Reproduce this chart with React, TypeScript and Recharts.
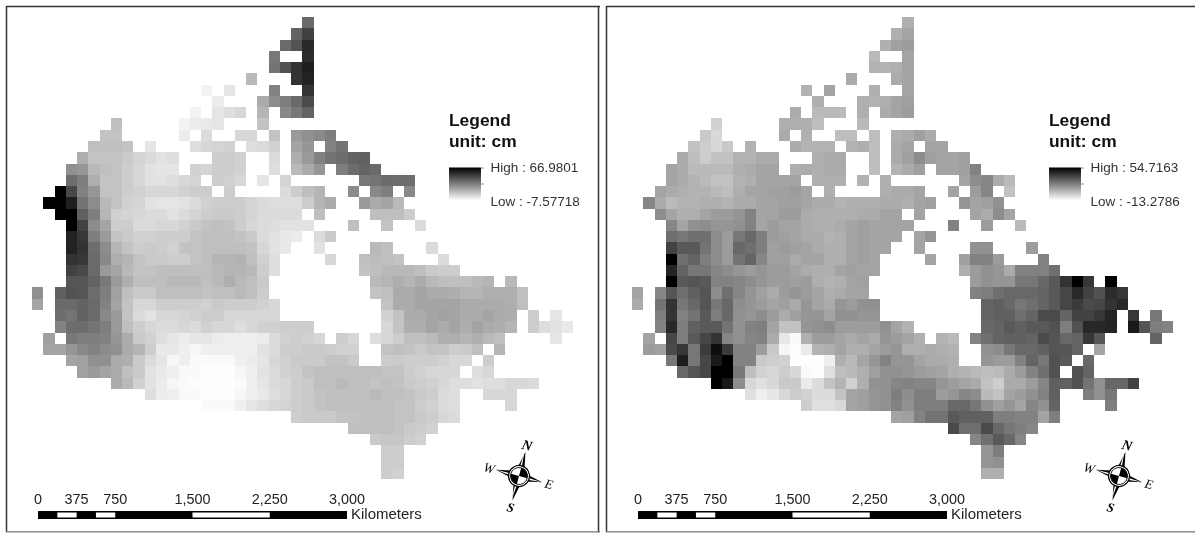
import React from "react";
import { ScatterChart, Scatter, XAxis, YAxis } from "recharts";

// Gridded change maps, two panels. Unit: cm. null = no data in that cell.
const _ = null;
const COLS = 48;
const ROWS = 41;

// first occupied column of every row (both panels share the same land mask)
const rowFirstColumn = [24, 23, 22, 21, 21, 19, 15, 16, 14, 7, 6, 5, 4, 3, 3, 2, 1, 2, 3, 3, 3, 3, 3, 3, 0, 0, 2, 2, 1, 1, 3, 4, 7, 10, 15, 23, 28, 30, 31, 31, 31];

const leftHigh = 66.9801;
const leftLow = -7.57718;
const rightHigh = 54.7163;
const rightLow = -13.2786;

const leftValues = [
  [36],
  [38, 48],
  [36, 43, 55],
  [32, _, _, 54],
  [33, 43, 52, 58],
  [13, _, _, _, 52, 57],
  [-4, _, 0, _, _, _, 29, _, _, 52],
  [-2, _, _, _, 17, 26, 30, 36, 45],
  [-4, _, 0, 2, 4, _, 14, _, 27, 32, 38],
  [11, _, _, _, _, _, -4, -2, -1, 0, _, _, _, 10],
  [10, 10, _, _, _, _, _, -2, _, 3, _, _, 4, 4, _, 10, _, 22, 25, 27, 30],
  [11, 11, 11, 10, _, 0, _, _, _, 2, 4, 5, 6, _, 2, 3, 6, _, 19, 23, _, 29, 33],
  [16, 10, 10, 10, 8, 5, 3, 1, 2, _, _, _, 7, 7, 6, _, _, 3, _, 16, 22, 29, 33, 35, 38, 39],
  [25, 23, 13, 11, 10, 7, 4, 1, 0, 0, _, 6, 5, 7, 7, 6, _, _, 2, _, 13, 17, 23, _, 30, 35, 38, 36],
  [35, 30, 16, 10, 10, 7, 4, 1, 1, 2, 4, 5, _, 7, 6, 4, _, 0, _, 5, _, _, _, _, _, _, 32, 33, 36, 35, 35],
  [67, 46, 29, 23, 10, 10, 7, 6, 4, 4, 4, 6, 7, 7, _, 7, _, _, _, _, 3, 7, 11, 14, _, _, 26, _, 27, 30, _, 27],
  [67, 67, 58, 33, 26, 13, 10, 6, 5, 1, 0, 0, 1, 3, 6, 7, 7, 7, 5, 3, 2, 2, 2, 7, 14, 17, _, _, 22, 17, 19, 13],
  [67, 67, 39, 30, 14, 6, 5, 4, 3, 3, 1, 3, 5, 7, 8, 8, 7, 5, 3, 3, 3, 3, _, 11, _, _, _, _, 11, 11, 11, 7],
  [67, 48, 26, 19, 7, 7, 3, 3, 4, 4, 6, 8, 10, 11, 10, 7, 4, 3, 2, 1, 1, 1, _, _, _, 11, _, _, 10, _, _, 3],
  [57, 51, 30, 22, 10, 8, 6, 6, 7, 7, 7, 10, 11, 11, 11, 10, 8, 3, 1, -1, -2, _, 3, 8],
  [57, 52, 35, 26, 14, 10, 7, 8, 7, 6, 10, 10, 11, 11, 11, 11, 10, 4, 1, -1, _, _, 1, _, _, _, _, 13, 11, _, _, _, 3],
  [52, 51, 36, 27, 16, 14, 10, 8, 8, 7, 7, 10, 11, 14, 14, 15, 11, 6, 2, _, _, _, _, 4, _, _, 11, 12, 11, 10, _, _, _, 3],
  [48, 46, 36, 22, 19, 13, 10, 10, 11, 11, 11, 11, 11, 13, 14, 14, 13, 7, 2, _, _, _, _, _, _, _, 10, 11, 13, 13, 13, 11, 8, 7, 7],
  [42, 42, 38, 32, 22, 16, 11, 11, 11, 13, 13, 13, 11, 13, 16, 13, 11, 8, _, _, _, _, _, _, _, _, _, 13, 14, 16, 14, 17, 13, 11, 11, 11, 13, 14, _, 13],
  [25, _, 39, 43, 42, 35, 30, 20, 11, 8, 8, 11, 11, 11, 11, 10, 11, 11, 13, 11, 7, _, _, _, _, _, _, _, _, _, 10, 11, 17, 17, 19, 17, 17, 16, 14, 14, 16, 16, 16, 11],
  [19, _, 36, 36, 38, 36, 29, 19, 10, 4, 4, 7, 7, 7, 7, 6, 8, 7, 7, 7, 6, 4, _, _, _, _, _, _, _, _, _, 10, 17, 17, 19, 19, 19, 19, 17, 17, 17, 17, 16, 11],
  [35, 33, 38, 36, 27, 22, 10, 3, 1, 4, 4, 5, 6, 7, 7, 4, 4, 4, 4, 4, _, _, _, _, _, _, _, _, _, 6, 10, 17, 17, 19, 20, 19, 17, 17, 19, 17, 16, _, 7, _, 0],
  [29, 35, 35, 33, 30, 22, 11, 7, 4, 3, 3, 4, 3, 6, 4, 4, 2, 4, 6, 6, 7, 7, 7, _, _, _, _, _, _, 4, 10, 16, 16, 19, 17, 19, 16, 19, 17, 16, 14, _, 7, 2, 1, -1],
  [20, _, 32, 30, 30, 29, 23, 17, 8, 6, 2, 0, -2, 0, 0, -2, -3, -3, -3, -2, 3, 6, 7, 6, 4, _, 7, 4, _, 2, 4, 7, 11, 11, 13, 16, 16, 14, 16, 13, 11, _, _, _, _, 0],
  [19, 19, 23, 27, 29, 26, 25, 17, 14, 7, -1, -1, -3, -5, -3, -3, -3, -3, -3, 1, 3, 7, 7, 8, 8, 7, 6, 6, _, _, 10, 11, 10, 8, 10, 10, 7, 8, 11, _, 14],
  [19, 20, 25, 25, 17, 16, 8, 3, 0, -5, -3, -6, -6, -6, -6, -3, -2, 0, 4, 6, 8, 8, 8, 10, 10, 8, _, _, 7, 8, 7, 7, 7, 6, 4, 4, _, 7],
  [20, 22, 19, 17, 11, 8, 1, -1, -3, -6, -6, -7, -7, -7, -5, -3, 1, 3, 6, 7, 10, 11, 11, 11, 11, 11, 11, 10, 10, 7, 6, 4, 4, 4, _, 2, 4],
  [17, 13, 6, 1, -2, -5, -6, -7, -7, -7, -7, -6, -3, 0, 3, 4, 7, 8, 11, 11, 13, 11, 11, 10, 11, 10, 8, 7, 6, 4, 2, 2, 1, 2, 2, 4, 4, 3],
  [2, -2, -3, -6, -6, -7, -7, -7, -5, -3, -1, 2, 4, 7, 8, 10, 11, 11, 11, 11, 13, 11, 11, 10, 8, 7, 3, 2, _, _, 4, 4, 4],
  [-6, -6, -6, -3, 0, 2, 4, 5, 7, 8, 10, 11, 11, 11, 11, 11, 11, 10, 10, 7, 6, 3, 2, _, _, _, _, 4],
  [7, 8, 8, 8, 10, 10, 11, 11, 11, 10, 10, 8, 7, 4, 3],
  [11, 11, 11, 11, 10, 8, 7, 6],
  [8, 9, 9, 7, 6],
  [7, 7],
  [7, 7],
  [7, 6],
];

const rightValues = [
  [8],
  [8, 11],
  [8, 12, 13],
  [5, _, _, 11],
  [7, 7, 8, 11],
  [9, _, _, _, 9, 11],
  [7, _, 11, _, _, _, 8, _, _, 11],
  [8, _, _, _, 8, 7, 8, 11, 12],
  [9, _, 5, 5, 5, _, 8, _, 9, 11, 13],
  [-1, _, _, _, _, _, 8, 8, 8, 4, _, _, _, 5],
  [1, -3, _, _, _, _, _, 9, _, 8, _, _, 4, 4, _, 4, _, 8, 9, 12, 9],
  [3, 0, -3, 1, _, 7, _, _, _, 9, 7, 7, 7, _, 7, 8, 4, _, 9, 11, _, 11, 11],
  [9, 4, 0, 3, 3, 7, 7, 9, 9, _, _, _, 8, 9, 9, _, _, 4, _, 9, 12, 17, 12, 11, 11, 12],
  [11, 9, 5, 5, 5, 5, 8, 9, 11, 11, _, 8, 9, 8, 9, 9, _, _, 4, _, 7, 9, 12, _, 11, 11, 12, 20],
  [11, 9, 7, 5, 3, 3, 7, 8, 11, 11, 11, 11, _, 8, 8, 8, _, 7, _, 8, _, _, _, _, _, _, 11, 17, 19, 9, 5],
  [11, 9, 8, 7, 7, 5, 4, 8, 11, 11, 12, 12, 13, 11, _, 8, _, _, _, _, 8, 9, 9, 11, _, _, 11, _, 13, 19, _, 3],
  [19, 9, 5, 7, 7, 8, 8, 7, 9, 9, 11, 11, 12, 12, 11, 9, 9, 7, 8, 8, 8, 9, 9, 8, 11, 12, _, _, 15, 11, 12, 16],
  [17, 11, 8, 8, 11, 13, 13, 15, 20, 11, 11, 13, 13, 9, 8, 8, 8, 8, 9, 9, 11, 11, _, 11, _, _, _, _, 11, 9, 17, 11],
  [19, 11, 16, 17, 15, 15, 16, 20, 11, 13, 11, 11, 9, 8, 8, 9, 11, 12, 11, 11, 11, 11, _, _, _, 20, _, _, 13, _, _, 5],
  [25, 23, 25, 25, 17, 13, 23, 27, 21, 13, 12, 11, 9, 9, 7, 8, 11, 12, 11, 11, 11, _, 11, 15],
  [37, 31, 31, 24, 17, 13, 27, 25, 21, 12, 13, 12, 11, 9, 8, 8, 11, 12, 11, 11, _, _, 11, _, _, _, _, 16, 16, _, _, _, 13],
  [55, 25, 28, 21, 17, 13, 24, 28, 19, 12, 12, 9, 11, 11, 8, 8, 11, 12, 11, _, _, _, _, 11, _, _, 12, 20, 20, 13, _, _, _, 20],
  [45, 28, 23, 23, 19, 17, 15, 13, 15, 13, 13, 11, 9, 8, 8, 11, 12, 11, 11, _, _, _, _, _, _, _, 8, 13, 16, 15, 9, 20, 20, 20, 25],
  [55, 31, 32, 31, 20, 20, 19, 17, 15, 13, 13, 12, 13, 8, 7, 8, 11, 12, _, _, _, _, _, _, _, _, _, 13, 16, 15, 15, 23, 23, 27, 31, 41, 55, 40, _, 55],
  [11, _, 19, 32, 25, 29, 32, 17, 25, 19, 15, 12, 9, 13, 15, 13, 11, 8, 9, 11, 11, _, _, _, _, _, _, _, _, _, 20, 21, 25, 27, 27, 27, 28, 31, 36, 44, 37, 33, 43, 40],
  [9, _, 24, 41, 23, 27, 32, 23, 27, 17, 15, 13, 11, 12, 9, 15, 11, 9, 15, 13, 16, 16, _, _, _, _, _, _, _, _, _, 28, 29, 27, 23, 25, 28, 31, 36, 39, 35, 36, 41, 44],
  [21, 41, 20, 24, 31, 21, 27, 16, 15, 17, 13, 9, 12, 15, 15, 11, 16, 16, 15, 15, _, _, _, _, _, _, _, _, _, 28, 29, 29, 25, 28, 35, 35, 28, 37, 37, 40, 45, _, 40, _, 23],
  [20, 44, 21, 29, 31, 31, 24, 16, 20, 21, 11, 3, 3, 15, 16, 17, 13, 13, 13, 13, 16, 11, 7, _, _, _, _, _, _, 27, 28, 31, 29, 31, 31, 33, 21, 33, 44, 44, 45, _, 48, 32, 21, 20],
  [11, _, 36, 21, 31, 36, 41, 19, 16, 19, 20, 9, -7, -12, 8, 13, 13, 11, 9, 11, 9, 15, 13, 11, 8, _, 7, 5, _, 20, 25, 28, 29, 29, 28, 35, 32, 27, 28, 40, 32, _, _, _, _, 28],
  [13, 12, 35, 40, 23, 39, 51, 39, 20, 20, 13, 1, -11, -13, -8, 7, 8, 11, 8, 8, 11, 13, 15, 8, 8, 9, 8, 7, _, _, 16, 17, 23, 27, 27, 29, 32, 32, 28, _, 11],
  [23, 47, 23, 36, 48, 55, 20, 20, 1, 0, -1, -13, -13, -13, -9, 8, 5, 11, 15, 20, 15, 15, 11, 9, 9, 8, _, _, 15, 13, 13, 20, 28, 23, 33, 31, _, 27],
  [27, 32, 36, 55, 55, 23, 4, -1, -3, 0, -3, -12, -13, -5, 4, 5, 8, 12, 16, 16, 15, 13, 12, 11, 8, 7, 5, 4, 5, 9, 13, 20, 25, 33, _, 33, 28],
  [55, 48, 17, -3, -5, -3, 1, 1, -8, -4, 3, 7, -1, 8, 16, 16, 19, 20, 19, 19, 15, 13, 11, 9, 3, 0, 9, 9, 13, 19, 29, 29, 33, 24, 16, 27, 27, 37],
  [-5, -9, -7, -3, 0, -1, -4, -4, 3, 11, 12, 15, 16, 21, 17, 21, 21, 13, 15, 19, 17, 5, 3, 11, 13, 16, 20, 29, _, _, 21, 16, 23],
  [0, -5, -5, -3, 11, 12, 15, 16, 20, 16, 21, 21, 21, 27, 27, 23, 16, 12, 15, 11, 19, 16, 28, _, _, _, _, 21],
  [11, 12, 20, 24, 24, 31, 29, 29, 29, 21, 21, 20, 20, 11, 21],
  [35, 25, 25, 35, 27, 23, 21, 19],
  [19, 25, 31, 27, 19],
  [15, 21],
  [15, 16],
  [8, 8],
];

const scaleTicks = [0, 375, 750, 1500, 2250, 3000];
const scaleLabels = ["0", "375", "750", "1,500", "2,250", "3,000"];
// alternating black / white stretches of the scale bar
const scaleStops = [0, 187.5, 375, 562.5, 750, 1500, 2250, 3000];

const CHART_W = 600;
const CHART_H = 533;
const PLOT_X = 32;
const PLOT_Y = 17;
const CELL = 11.27;
const FONT = "'Liberation Sans', Arial, sans-serif";
const SERIF = "'Liberation Serif', 'Times New Roman', serif";

function toPoints(values: (number | null)[][]) {
  const pts: { col: number; row: number; value: number }[] = [];
  values.forEach((cells, r) => {
    cells.forEach((v, i) => {
      if (v !== null) pts.push({ col: rowFirstColumn[r] + i + 0.5, row: r + 0.5, value: v });
    });
  });
  return pts;
}

function kmToX(km: number) {
  return 38 + (km / 3000) * 309;
}

function ScaleBar() {
  return (
    <g>
      <rect x={kmToX(0)} y={511} width={kmToX(3000) - kmToX(0)} height={8} fill="#000" />
      {scaleStops.slice(0, -1).map((km, i) =>
        i % 2 === 1 ? (
          <rect
            key={km}
            x={kmToX(km)}
            y={512.5}
            width={kmToX(scaleStops[i + 1]) - kmToX(km)}
            height={5}
            fill="#fff"
          />
        ) : null
      )}
      {scaleTicks.map((km, i) => (
        <text key={km} x={kmToX(km)} y={504} textAnchor="middle" fontFamily={FONT} fontSize={14.4} fill="#222">
          {scaleLabels[i]}
        </text>
      ))}
      <text x={351} y={519} fontFamily={FONT} fontSize={15} fill="#222">
        Kilometers
      </text>
    </g>
  );
}

function Compass() {
  return (
    <g transform="translate(519 476) rotate(15)">
      <polygon points="0,-25 3.5,-8 -3.5,-8" fill="#000" />
      <polygon points="0,25 3.5,8 -3.5,8" fill="#000" />
      <polygon points="-24,0 -8,-3.5 -8,3.5" fill="#000" />
      <polygon points="24,0 8,-3.5 8,3.5" fill="#000" />
      <polygon points="0,-25 1.5,-8 -0.5,-8" fill="#fff" transform="translate(-1 0)" />
      <polygon points="0,25 1.5,8 -0.5,8" fill="#fff" transform="translate(-1 0)" />
      <polygon points="-24,0 -8,-0.5 -8,1.5" fill="#fff" />
      <polygon points="24,0 8,-0.5 8,1.5" fill="#fff" />
      <circle r={10.5} fill="#fff" stroke="#000" strokeWidth={1.2} />
      <circle r={8.5} fill="#fff" stroke="#000" strokeWidth={0.8} />
      <path d="M0 0 L0 -8.5 A8.5 8.5 0 0 1 8.5 0 Z" fill="#000" />
      <path d="M0 0 L0 8.5 A8.5 8.5 0 0 1 -8.5 0 Z" fill="#000" />
      <text x={0} y={-27} textAnchor="middle" fontFamily={SERIF} fontStyle="italic" fontWeight="bold" fontSize={14}>N</text>
      <text x={0} y={37} textAnchor="middle" fontFamily={SERIF} fontStyle="italic" fontWeight="bold" fontSize={13}>S</text>
      <text x={-31} y={4.5} textAnchor="middle" fontFamily={SERIF} fontStyle="italic" fontSize={13}>W</text>
      <text x={31} y={4.5} textAnchor="middle" fontFamily={SERIF} fontStyle="italic" fontSize={13}>E</text>
    </g>
  );
}

function MapPanel({
  id,
  values,
  high,
  low,
  highLabel,
  lowLabel,
  width,
  style,
}: {
  id: string;
  values: (number | null)[][];
  high: number;
  low: number;
  highLabel: string;
  lowLabel: string;
  width: number;
  style: React.CSSProperties;
}) {
  const grey = (v: number) => {
    const g = Math.round(255 * (1 - (v - low) / (high - low)));
    const c = Math.max(0, Math.min(255, g));
    return `rgb(${c},${c},${c})`;
  };

  const renderCell = (p: any) => (
    <rect
      x={p.cx - CELL / 2}
      y={p.cy - CELL / 2}
      width={CELL}
      height={CELL}
      fill={grey(p.payload.value)}
      shapeRendering="crispEdges"
    />
  );

  return (
    <div style={style}>
      <ScatterChart
        width={width}
        height={CHART_H}
        margin={{
          top: PLOT_Y,
          left: PLOT_X,
          right: width - PLOT_X - COLS * CELL,
          bottom: CHART_H - PLOT_Y - ROWS * CELL,
        }}
      >
        <XAxis type="number" dataKey="col" domain={[0, COLS]} hide />
        <YAxis type="number" dataKey="row" domain={[0, ROWS]} reversed hide />
        <Scatter data={toPoints(values)} shape={renderCell} isAnimationActive={false} />

        {/* frame */}
        <line x1={6.5} y1={6.5} x2={600} y2={6.5} stroke="#333" strokeWidth={1.5} />
        <line x1={6.5} y1={6} x2={6.5} y2={532} stroke="#333" strokeWidth={1.5} />
        <line x1={598.5} y1={6} x2={598.5} y2={532} stroke="#333" strokeWidth={1.5} />
        <line x1={6} y1={531.8} x2={600} y2={531.8} stroke="#777" strokeWidth={1.2} />

        {/* legend */}
        <defs>
          <linearGradient id={id} x1="0" y1="0" x2="0" y2="1">
            <stop offset="0%" stopColor="#000" />
            <stop offset="50%" stopColor="#808080" />
            <stop offset="100%" stopColor="#fff" />
          </linearGradient>
        </defs>
        <text x={449} y={126} fontFamily={FONT} fontWeight="bold" fontSize={17.4} fill="#111">Legend</text>
        <text x={449} y={146.5} fontFamily={FONT} fontWeight="bold" fontSize={17.4} fill="#111">unit: cm</text>
        <rect x={449} y={167.5} width={32} height={33} fill={`url(#${id})`} />
        <line x1={481} y1={168} x2={484} y2={168} stroke="#999" />
        <line x1={481} y1={184} x2={484} y2={184} stroke="#999" />
        <text x={490.5} y={172} fontFamily={FONT} fontSize={13.5} fill="#333">{highLabel}</text>
        <text x={490.5} y={206} fontFamily={FONT} fontSize={13.5} fill="#333">{lowLabel}</text>

        <ScaleBar />
        <Compass />
      </ScatterChart>
    </div>
  );
}

export default function App() {
  return (
    <div style={{ position: "absolute", left: 0, top: 0, width: 1195, height: 533, background: "#fff", overflow: "hidden", filter: "blur(0.35px)" }}>
      <MapPanel
        id="legendLeft"
        values={leftValues}
        high={leftHigh}
        low={leftLow}
        highLabel="High : 66.9801"
        lowLabel="Low : -7.57718"
        width={CHART_W}
        style={{ position: "absolute", left: 0, top: 0 }}
      />
      <MapPanel
        id="legendRight"
        values={rightValues}
        high={rightHigh}
        low={rightLow}
        highLabel="High : 54.7163"
        lowLabel="Low : -13.2786"
        width={595}
        style={{ position: "absolute", left: 600, top: 0 }}
      />
    </div>
  );
}
